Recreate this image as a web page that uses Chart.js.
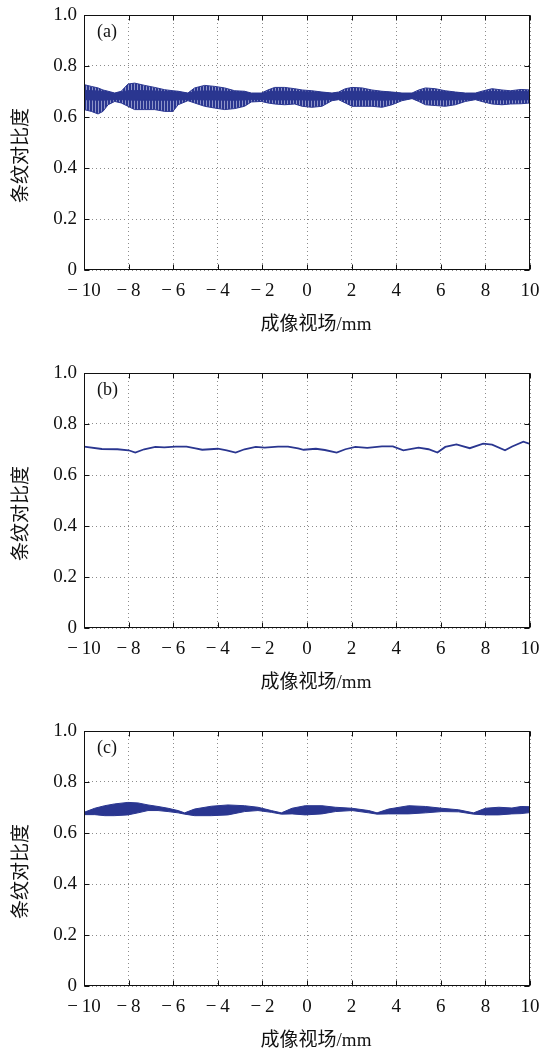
<!DOCTYPE html>
<html>
<head>
<meta charset="utf-8">
<script src="https://cdn.jsdelivr.net/npm/chart.js@4.4.1/dist/chart.umd.min.js"></script>
<style>
  html, body { margin: 0; padding: 0; background: #fff; }
  #page { position: relative; width: 545px; height: 1052px; }
  canvas { position: absolute; left: 0; }
</style>
</head>
<body>
<div id="page">
  <canvas id="chartA" width="545" height="336" style="top:0px"></canvas>
  <canvas id="chartB" width="545" height="336" style="top:358px"></canvas>
  <canvas id="chartC" width="545" height="336" style="top:716px"></canvas>
</div>
<script>
const xTicks = [-10, -8, -6, -4, -2, 0, 2, 4, 6, 8, 10];
const yTicks = [0, 0.2, 0.4, 0.6, 0.8, 1.0];
const panelLabels = ['(a)', '(b)', '(c)'];
const xTitle = '成像视场/mm';
const yTitle = '条纹对比度';

// (a) oscillating contrast: outer envelope and dense core
const xA = [-10, -9.67, -9.37, -9.15, -8.92, -8.62, -8.33, -8.03, -7.73, -7.28,
  -6.83, -6.38, -6.01, -5.78, -5.34, -5.04, -4.59, -4.14, -3.69, -3.24,
  -2.8, -2.5, -2.05, -1.75, -1.45, -1.0, -0.55, -0.22, 0.22, 0.67,
  1.12, 1.42, 1.72, 2.02, 2.47, 2.91, 3.36, 3.81, 4.26, 4.71,
  5.01, 5.31, 5.75, 6.2, 6.65, 7.1, 7.55, 7.92, 8.3, 8.74,
  9.12, 9.6, 10];
const upperA = [0.727, 0.720, 0.714, 0.706, 0.701, 0.694, 0.701, 0.729, 0.733, 0.724,
  0.716, 0.707, 0.703, 0.701, 0.694, 0.714, 0.724, 0.720, 0.714, 0.703,
  0.701, 0.694, 0.694, 0.706, 0.716, 0.716, 0.711, 0.706, 0.703, 0.698,
  0.694, 0.698, 0.711, 0.716, 0.714, 0.706, 0.701, 0.698, 0.694, 0.694,
  0.706, 0.714, 0.711, 0.703, 0.698, 0.694, 0.694, 0.703, 0.711, 0.706,
  0.703, 0.708, 0.706];
const lowerA = [0.629, 0.622, 0.612, 0.622, 0.648, 0.661, 0.655, 0.642, 0.629, 0.629,
  0.629, 0.622, 0.622, 0.648, 0.664, 0.655, 0.642, 0.635, 0.629, 0.633,
  0.642, 0.659, 0.661, 0.655, 0.651, 0.648, 0.651, 0.642, 0.638, 0.642,
  0.664, 0.668, 0.655, 0.642, 0.642, 0.642, 0.638, 0.648, 0.664, 0.672,
  0.661, 0.648, 0.645, 0.642, 0.648, 0.661, 0.668, 0.659, 0.651, 0.648,
  0.651, 0.652, 0.655];
const coreUpperA = [0.705, 0.703, 0.702, 0.700, 0.698, 0.692, 0.698, 0.703, 0.704, 0.703,
  0.702, 0.700, 0.699, 0.698, 0.692, 0.701, 0.702, 0.702, 0.701, 0.699,
  0.698, 0.692, 0.692, 0.699, 0.701, 0.701, 0.700, 0.699, 0.698, 0.696,
  0.692, 0.695, 0.700, 0.701, 0.701, 0.699, 0.698, 0.696, 0.692, 0.692,
  0.699, 0.701, 0.700, 0.699, 0.696, 0.692, 0.692, 0.698, 0.700, 0.699,
  0.699, 0.700, 0.699];
const coreLowerA = [0.668, 0.667, 0.666, 0.666, 0.667, 0.668, 0.668, 0.667, 0.666, 0.666,
  0.666, 0.666, 0.666, 0.667, 0.668, 0.668, 0.667, 0.667, 0.666, 0.666,
  0.667, 0.668, 0.668, 0.668, 0.667, 0.667, 0.667, 0.667, 0.666, 0.667,
  0.668, 0.670, 0.668, 0.667, 0.667, 0.667, 0.666, 0.667, 0.668, 0.674,
  0.668, 0.667, 0.667, 0.667, 0.667, 0.668, 0.670, 0.668, 0.667, 0.667,
  0.667, 0.667, 0.668];

// (b) single curve
const xB = [-10, -9.2, -8.5, -8.0, -7.7, -7.3, -6.8, -6.4, -5.9, -5.4,
  -5.0, -4.7, -4.0, -3.6, -3.2, -2.8, -2.3, -1.9, -1.3, -0.85,
  -0.4, -0.15, 0.4, 0.8, 1.33, 1.72, 2.17, 2.7, 3.36, 3.85,
  4.32, 5.0, 5.45, 5.85, 6.2, 6.7, 7.3, 7.9, 8.3, 8.88,
  9.2, 9.7, 10];
const yB = [0.711, 0.702, 0.701, 0.697, 0.688, 0.701, 0.710, 0.708, 0.711, 0.711,
  0.704, 0.699, 0.703, 0.697, 0.688, 0.701, 0.710, 0.707, 0.711, 0.711,
  0.704, 0.699, 0.703, 0.698, 0.688, 0.701, 0.710, 0.706, 0.712, 0.712,
  0.697, 0.707, 0.701, 0.688, 0.710, 0.720, 0.705, 0.723, 0.719, 0.697,
  0.712, 0.731, 0.722];

// (c) narrow band
const xC = [-10, -9.52, -9.07, -8.63, -8.03, -7.58, -7.13, -6.68, -6.23, -5.78,
  -5.49, -5.04, -4.29, -3.54, -2.8, -2.2, -1.6, -1.15, -0.67, -0.08,
  0.67, 1.27, 2.02, 2.77, 3.14, 3.66, 4.56, 5.31, 6.05, 6.8,
  7.47, 8.0, 8.6, 9.19, 9.6, 10];
const upperC = [0.681, 0.697, 0.707, 0.714, 0.720, 0.718, 0.710, 0.704, 0.697, 0.688,
  0.679, 0.694, 0.705, 0.710, 0.707, 0.701, 0.688, 0.679, 0.697, 0.707,
  0.707, 0.701, 0.697, 0.688, 0.679, 0.694, 0.707, 0.704, 0.697, 0.691,
  0.679, 0.697, 0.701, 0.698, 0.704, 0.703];
const lowerC = [0.672, 0.672, 0.668, 0.668, 0.671, 0.679, 0.688, 0.688, 0.684, 0.679,
  0.674, 0.668, 0.668, 0.671, 0.684, 0.688, 0.681, 0.674, 0.675, 0.671,
  0.675, 0.684, 0.688, 0.679, 0.674, 0.675, 0.675, 0.679, 0.684, 0.683,
  0.674, 0.671, 0.671, 0.675, 0.676, 0.680];

const BLUE = '#2a3690';
const FONT = "'Liberation Serif', 'Noto Sans CJK SC', serif";

Chart.defaults.font.family = FONT;
Chart.defaults.font.size = 19;
Chart.defaults.color = '#111';

function fmtX(v) {
  return v < 0 ? '\u2212\u2009' + Math.abs(v) : String(v);
}

function fmtY(v) {
  return v === 0 ? '0' : v.toFixed(1);
}

function pts(xs, ys) {
  return xs.map((x, i) => ({ x, y: ys[i] }));
}

// vertical hatching like the dense plotted oscillation
function stripePattern() {
  const c = document.createElement('canvas');
  c.width = 3; c.height = 4;
  const g = c.getContext('2d');
  g.fillStyle = '#8d94c9';
  g.fillRect(0, 0, 3, 4);
  g.fillStyle = BLUE;
  g.fillRect(0, 0, 2, 4);
  return g.createPattern(c, 'repeat');
}

// box, inward ticks, panel letter and axis titles
const frame = {
  id: 'frame',
  afterDraw(chart, args, opts) {
    const { ctx, chartArea: a, scales: { x, y } } = chart;
    const L = Math.round(a.left) + 0.5, R = Math.round(a.right) - 0.5;
    const T = Math.round(a.top) + 0.5, B = Math.round(a.bottom) - 0.5;
    ctx.save();
    ctx.strokeStyle = '#111';
    ctx.lineWidth = 1;
    ctx.strokeRect(L, T, R - L, B - T);
    ctx.beginPath();
    x.ticks.forEach(t => {
      const px = Math.round(x.getPixelForValue(t.value)) + 0.5;
      ctx.moveTo(px, B); ctx.lineTo(px, B - 5);
      ctx.moveTo(px, T); ctx.lineTo(px, T + 5);
    });
    y.ticks.forEach(t => {
      const py = Math.round(y.getPixelForValue(t.value)) + 0.5;
      ctx.moveTo(L, py); ctx.lineTo(L + 5, py);
      ctx.moveTo(R, py); ctx.lineTo(R - 5, py);
    });
    ctx.stroke();

    ctx.fillStyle = '#111';
    ctx.textBaseline = 'middle';
    ctx.font = '18px ' + FONT;
    ctx.textAlign = 'left';
    ctx.fillText(opts.label, a.left + 13, a.top + 17);

    ctx.font = '19px ' + FONT;
    ctx.textAlign = 'center';
    ctx.fillText(xTitle, (a.left + a.right) / 2 + 9, a.bottom + 55);
    ctx.translate(22, (a.top + a.bottom) / 2 + 13);
    ctx.rotate(-Math.PI / 2);
    ctx.fillText(yTitle, 0, 0);
    ctx.restore();
  }
};

function makeChart(id, datasets, label) {
  const ctx = document.getElementById(id);
  return new Chart(ctx, {
    type: 'line',
    data: { datasets },
    options: {
      responsive: false,
      animation: false,
      layout: { padding: { top: 15, right: 15, left: 0, bottom: 0 } },
      plugins: {
        legend: { display: false },
        tooltip: { enabled: false },
        frame: { label }
      },
      scales: {
        x: {
          type: 'linear',
          min: -10,
          max: 10,
          afterBuildTicks: ax => { ax.ticks = xTicks.map(v => ({ value: v })); },
          afterFit: ax => { ax.height = 66; ax.paddingLeft = 0; ax.paddingRight = 0; },
          grid: { color: '#8c8c8c', lineWidth: 1, drawTicks: false },
          border: { display: false, dash: [1, 3] },
          ticks: { padding: 10, callback: fmtX, maxRotation: 0, autoSkip: false }
        },
        y: {
          min: 0,
          max: 1,
          afterBuildTicks: ax => { ax.ticks = yTicks.map(v => ({ value: v })); },
          afterFit: ax => { ax.width = 84; ax.paddingTop = 0; ax.paddingBottom = 0; },
          grid: { color: '#8c8c8c', lineWidth: 1, drawTicks: false },
          border: { display: false, dash: [1, 3] },
          ticks: { padding: 7, callback: fmtY }
        }
      }
    },
    plugins: [frame]
  });
}

function bandDatasets(xs, up, lo, fillStyle, order) {
  return [
    { data: pts(xs, up), borderColor: BLUE, borderWidth: 1, pointRadius: 0, fill: false, order },
    { data: pts(xs, lo), borderColor: BLUE, borderWidth: 1, pointRadius: 0, fill: '-1', backgroundColor: fillStyle, order }
  ];
}

// core gets the lower order so it is painted above the hatched envelope
makeChart('chartA', [
  ...bandDatasets(xA, coreUpperA, coreLowerA, BLUE, 0),
  ...bandDatasets(xA, upperA, lowerA, stripePattern(), 1)
], panelLabels[0]);
makeChart('chartB', [
  { data: pts(xB, yB), borderColor: BLUE, borderWidth: 1.8, pointRadius: 0, fill: false }
], panelLabels[1]);
makeChart('chartC', bandDatasets(xC, upperC, lowerC, BLUE, 0), panelLabels[2]);
</script>
</body>
</html>
